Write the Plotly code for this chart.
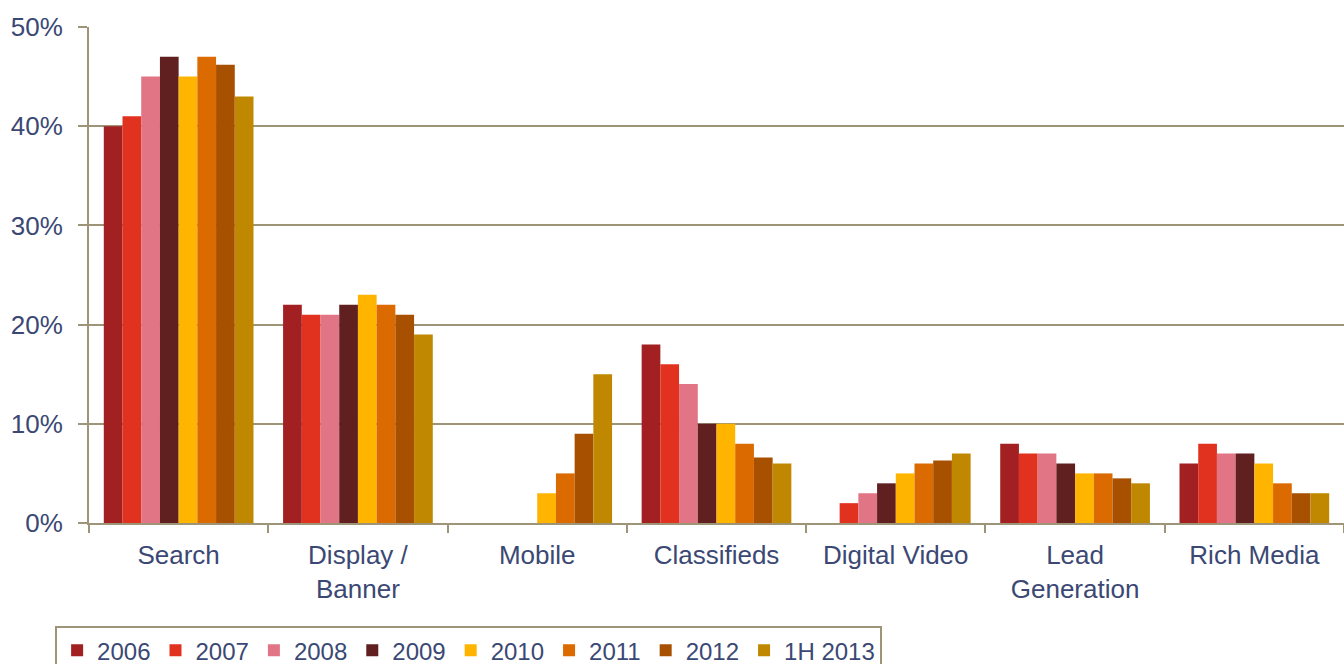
import plotly.graph_objects as go

categories = ["Search", "Display /<br>Banner", "Mobile", "Classifieds",
              "Digital Video", "Lead<br>Generation", "Rich Media"]
years = ["2006", "2007", "2008", "2009", "2010", "2011", "2012", "1H 2013"]

v2006 = [40, 22, 0, 18, 0, 8, 6]
v2007 = [41, 21, 0, 16, 2, 7, 8]
v2008 = [45, 21, 0, 14, 3, 7, 7]
v2009 = [47, 22, 0, 10, 4, 6, 7]
v2010 = [45, 23, 3, 10, 5, 5, 6]
v2011 = [47, 22, 5, 8, 6, 5, 4]
v2012 = [46.2, 21, 9, 6.6, 6.3, 4.5, 3]
v1h2013 = [43, 19, 15, 6, 7, 4, 3]

series = [v2006, v2007, v2008, v2009, v2010, v2011, v2012, v1h2013]
colors = ["#A21F22", "#E0321F", "#E27585", "#612020",
          "#FFB500", "#DB6A00", "#A65000", "#C08800"]

text_color = "#3B4874"
line_color = "#9E9478"

fig = go.Figure()
for name, vals, col in zip(years, series, colors):
    fig.add_bar(x=categories, y=[v / 100 for v in vals], name=name,
                marker=dict(color=col, line=dict(width=0)))

fig.update_layout(
    barmode="group", bargap=0.165, bargroupgap=0,
    width=1344, height=664,
    margin=dict(l=89, r=0, t=27, b=141, autoexpand=False),
    plot_bgcolor="white", paper_bgcolor="white",
    font=dict(family="Liberation Sans, Arial", size=26, color=text_color),
    showlegend=True,
    legend=dict(orientation="h", x=-0.027, y=-0.208, xanchor="left", yanchor="top",
                bordercolor=line_color, borderwidth=2, font=dict(size=24),
                itemwidth=30, tracegroupgap=0, traceorder="normal"),
    xaxis=dict(showline=True, linecolor=line_color, linewidth=2,
               ticks="outside", tickson="boundaries", ticklen=8,
               tickcolor=line_color, tickwidth=2, automargin=False,
               ticklabelstandoff=8),
    yaxis=dict(range=[0, 0.5], dtick=0.1, tickformat=".0%",
               showline=True, linecolor=line_color, linewidth=2,
               gridcolor=line_color, gridwidth=2,
               ticks="outside", ticklen=9, tickcolor=line_color, tickwidth=2,
               zeroline=False, automargin=False, ticklabelstandoff=10),
)

# drop the page's default body margin so the figure fills the window
fig.write_html("out.html", config={"displayModeBar": False},
               post_script="document.body.style.margin='0';")
